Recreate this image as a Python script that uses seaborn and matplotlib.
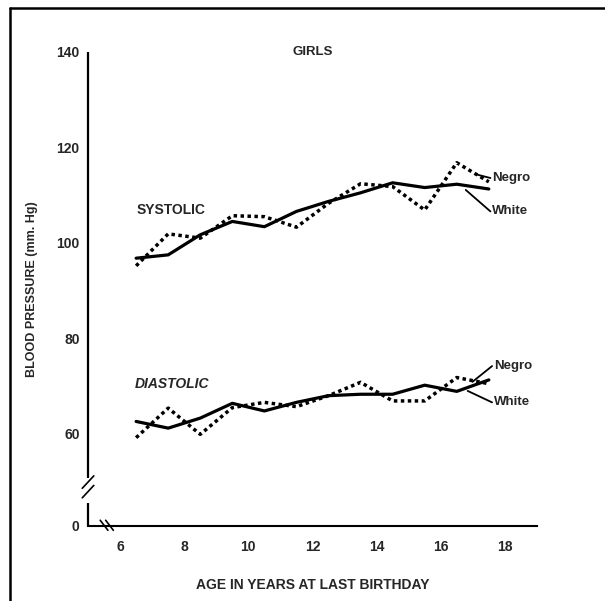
import numpy as np
import pandas as pd
import matplotlib
matplotlib.use('Agg')
import matplotlib.pyplot as plt
import seaborn as sns

# Data (ages at mid-year, mm Hg)
ages = [6.5, 7.5, 8.5, 9.5, 10.5, 11.5, 12.5, 13.5, 14.5, 15.5, 16.5, 17.5]
sys_white = [96.8, 97.5, 101.7, 104.5, 103.4, 106.6, 108.7, 110.5, 112.6, 111.6, 112.3, 111.3]
sys_negro = [95.2, 101.9, 101.0, 105.7, 105.5, 103.3, 108.3, 112.4, 111.8, 106.9, 116.8, 112.8]
dia_white = [62.6, 61.2, 63.3, 66.4, 64.8, 66.6, 68.0, 68.3, 68.3, 70.2, 68.9, 71.3]
dia_negro = [59.2, 65.4, 59.9, 65.5, 66.6, 65.7, 68.0, 70.8, 66.9, 66.9, 71.8, 70.5]

x_ticks = list(range(6, 19))
x_labels = [str(a) if a % 2 == 0 else '' for a in x_ticks]
y_zero = 40.7  # where the broken axis puts its "0"
y_ticks = [y_zero, 60, 80, 100, 120, 140]
y_labels = ['0', '60', '80', '100', '120', '140']

rows = []
for measure, white, negro in [('Systolic', sys_white, sys_negro),
                              ('Diastolic', dia_white, dia_negro)]:
    for a, w, n in zip(ages, white, negro):
        rows.append({'age': a, 'bp': w, 'race': 'White', 'measure': measure})
        rows.append({'age': a, 'bp': n, 'race': 'Negro', 'measure': measure})
df = pd.DataFrame(rows)

sns.set_style('white')
plt.rcParams['font.family'] = ['Liberation Sans', 'DejaVu Sans']
plt.rcParams['font.weight'] = 'bold'

fig = plt.figure(figsize=(6.05, 6.01), dpi=100)
ax = fig.add_axes([0.1455, 0.1248, 0.742, 0.7887])

for measure in ['Systolic', 'Diastolic']:
    sub = df[df['measure'] == measure]
    sns.lineplot(data=sub[sub['race'] == 'White'], x='age', y='bp', color='black',
                 linewidth=2.3, ax=ax, legend=False)
    sns.lineplot(data=sub[sub['race'] == 'Negro'], x='age', y='bp', color='black',
                 linewidth=2.5, linestyle=(0, (1, 1.0)), ax=ax, legend=False)

ax.set_xlim(5, 19)
ax.set_ylim(y_zero, 140)
ax.set_xticks(x_ticks)
ax.set_xticklabels(x_labels, fontsize=10)
ax.set_yticks(y_ticks)
ax.set_yticklabels(y_labels, fontsize=10)
ax.tick_params(axis='x', direction='in', length=11, width=1.5, pad=10)
ax.tick_params(axis='y', direction='in', length=11, width=1.2, pad=6)

for s in ['top', 'right', 'left']:
    ax.spines[s].set_visible(False)
ax.spines['bottom'].set_linewidth(1.5)
ax.spines['bottom'].set_color('black')

# broken y axis
ax.vlines(5, 50.7, 140, color='black', linewidth=1.6, clip_on=False)
ax.vlines(5, y_zero, 45.6, color='black', linewidth=1.6, clip_on=False)
for dy in (0, 2.0):
    ax.plot([4.82, 5.18], [46.6 + dy, 49.2 + dy], color='black', linewidth=1.2, clip_on=False)
# break on the x axis
for dx in (0, 0.17):
    ax.plot([5.38 + dx, 5.62 + dx], [y_zero + 1.2, y_zero - 0.9], color='black', linewidth=1.2, clip_on=False)

ax.set_xlabel('AGE IN YEARS AT LAST BIRTHDAY', fontsize=10, fontweight='bold')
ax.xaxis.set_label_coords(0.5, -0.11)
ax.set_ylabel('BLOOD PRESSURE (mm. Hg)', fontsize=9, fontweight='bold')
ax.yaxis.set_label_coords(-0.111, 0.5)

ax.text(0.5, 1.0, 'GIRLS', transform=ax.transAxes, ha='center', va='center', fontsize=9.5)
ax.text(6.5, 107.0, 'SYSTOLIC', ha='left', va='center', fontsize=10)
ax.text(6.45, 70.5, 'DIASTOLIC', ha='left', va='center', fontsize=10, style='italic')

# pointer labels
pointers = [('Negro', (17.14, 114.3), (17.55, 113.6)),
            ('White', (16.78, 111.1), (17.55, 106.6)),
            ('Negro', (16.99, 70.9), (17.6, 74.2)),
            ('White', (16.84, 69.0), (17.6, 66.6))]
for label, start, end in pointers:
    ax.annotate('', xy=start, xytext=end,
                arrowprops=dict(arrowstyle='-', color='black', lw=1.3, shrinkA=0, shrinkB=0))
    ax.text(end[0] + 0.05, end[1], label, ha='left', va='center', fontsize=9.5)

# frame of the figure (top and left edges only)
fig.add_artist(plt.Line2D([10 / 605, 1], [1 - 8 / 601, 1 - 8 / 601], color='black', linewidth=1.8))
fig.add_artist(plt.Line2D([10 / 605, 10 / 605], [0, 1 - 8 / 601], color='black', linewidth=1.8))

fig.savefig('out.png', dpi=100)
